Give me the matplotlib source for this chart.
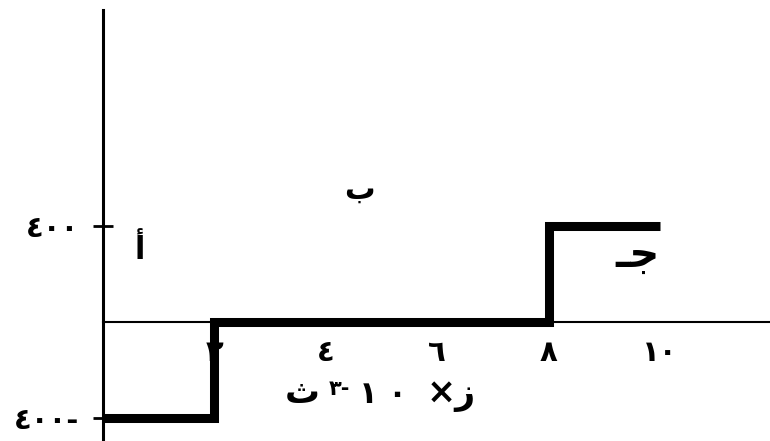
import matplotlib
matplotlib.use('Agg')
import matplotlib.pyplot as plt

# step levels of the chart
x_edges = [0, 2, 8, 10]
levels = [-400, 0, 400]

x_ticks = [2, 4, 6, 8, 10]
x_tick_labels = ['٢', '٤', '٦', '٨', '١٠']
y_ticks = [-400, 400]
y_tick_labels = ['٤٠٠-', '٤٠٠']

# jeem drawn as tatweel + initial form so it reads like the original
region_labels = ['أ', 'ب', '\u0640\uFE9F']
region_pos = [(0.66, 300), (4.6, 545), (9.6, 278)]
region_size = [22, 22, 30]

plt.rcParams['font.family'] = ['DejaVu Sans']

fig = plt.figure(figsize=(7.7, 4.41), dpi=100)
ax = fig.add_axes([103 / 770, 0, 667 / 770, 431 / 441])

ax.step(x_edges, levels + [levels[-1]], where='post', color='black',
        lw=6.5, solid_capstyle='butt', solid_joinstyle='miter')

px = 55.7
yscale = 4.15
ax.set_xlim(0, 667 / px)
ax.set_ylim(-119 * yscale, 312 * yscale)

for s in ['top', 'right']:
    ax.spines[s].set_visible(False)
ax.spines['bottom'].set_position(('data', 0))
ax.spines['bottom'].set_linewidth(1.5)
ax.spines['left'].set_linewidth(2.2)

ax.set_xticks(x_ticks)
ax.set_xticklabels(x_tick_labels, fontsize=21, fontweight='bold')
ax.tick_params(axis='x', length=0, pad=12)
ax.set_yticks(y_ticks)
ax.set_yticklabels(y_tick_labels, fontsize=21, fontweight='bold')
ax.tick_params(axis='y', direction='inout', length=14, width=2, pad=10)

for lab, (x, y), fs in zip(region_labels, region_pos, region_size):
    ax.text(x, y, lab, fontsize=fs, fontweight='bold', ha='center', va='center')

# x axis label: ز × 10^-3 ث (drawn in visual order)
ax.text(3.57, -295, 'ث', fontsize=25, fontweight='bold', ha='center', va='center')
ax.text(4.25, -277, '٣-', fontsize=15, fontweight='bold', ha='center', va='center')
ax.text(5.03, -302, '١ ٠', fontsize=22, fontweight='bold', ha='center', va='center')
ax.text(6.25, -302, '×ز', fontsize=25, fontweight='bold', ha='center', va='center')

fig.savefig('out.png', dpi=100)
